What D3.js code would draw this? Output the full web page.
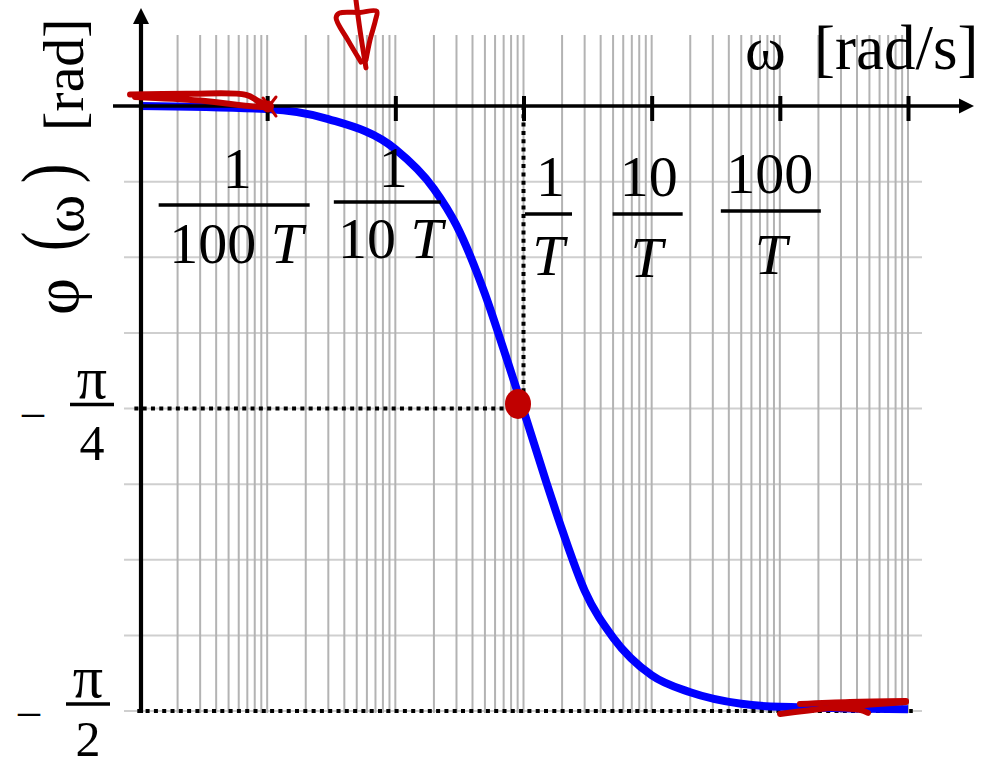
<!DOCTYPE html>
<html>
<head>
<meta charset="utf-8">
<script src="https://cdn.jsdelivr.net/npm/d3@7"></script>
<style>
  html, body { margin: 0; padding: 0; background: #fff; }
  svg { display: block; }
  text { font-family: "Liberation Serif", "Times New Roman", serif; fill: #000; }
</style>
</head>
<body>
<svg id="chart" width="995" height="761"></svg>
<script>
// Phase response of a first-order lag, ω given in units of 1/T
const omegaT = [0.001, 0.01, 0.03, 0.1, 0.2, 0.3, 0.5, 0.7, 1, 1.5, 2, 3, 5, 10, 20, 50, 100, 1000];
const phase  = [0, -0.008, -0.034, -0.112, -0.215, -0.310, -0.488, -0.632, -0.790, -0.975, -1.100, -1.258, -1.380, -1.478, -1.522, -1.552, -1.560, -1.566];

// Axis ticks and their fraction labels (numerator, denominator and bar centres, bar width)
const xTickValues = [0.01, 0.1, 1, 10, 100, 1000];
const xLabels = [
  { at: 0.01, num: "1",   den: "100", numDx: -30, barDx: -33, denDx: -31, barW: 151, numY: 188, barY: 205, denY: 263 },
  { at: 0.1,  num: "1",   den: "10",  numDx: -2,  barDx: -8,  denDx: -5,  barW: 107, numY: 187, barY: 202, denY: 258 },
  { at: 1,    num: "1",   den: "",    numDx: 27,  barDx: 25,  denDx: 25,  barW: 47,  numY: 196, barY: 214, denY: 275 },
  { at: 10,   num: "10",  den: "",    numDx: -3,  barDx: -4,  denDx: -5,  barW: 70,  numY: 196, barY: 214, denY: 277 },
  { at: 100,  num: "100", den: "",    numDx: -10, barDx: -9,  denDx: -9,  barW: 100, numY: 193, barY: 211, denY: 274 }
];
const yLabels = [
  { value: -Math.PI / 4, num: "π", den: "4" },
  { value: -Math.PI / 2, num: "π", den: "2" }
];
const gridDecades = [0.001, 0.01, 0.1, 1, 10, 100];
const gridMultipliers = [2, 3, 4, 5, 6, 7, 8, 9, 10];
const gridPhase = [1, 2, 3, 4, 5, 6, 7, 8].map(k => -k * Math.PI / 16);

// Hand-drawn red marks, in (ωT, phase) coordinates
const redArrowStem = [[0.0493, 0.275], [0.0530, 0.197], [0.0590, 0.099]];
const redArrowHead = [[0.0540, 0.114], [0.0427, 0.171], [0.0345, 0.229], [0.0365, 0.241],
                      [0.0530, 0.243], [0.0715, 0.246], [0.0700, 0.223], [0.0634, 0.171], [0.0590, 0.119]];
const redOriginScribble = [[0.000851, 0.0300], [0.0025, 0.0320], [0.00684, 0.0290], [0.00848, 0.0130],
                           [0.01015, 0.0], [0.00911, -0.0026], [0.00299, 0.0140], [0.000931, 0.0234]];
const redOriginTicks = [
  [[0.00928, 0.0208], [0.01172, -0.0260]],
  [[0.01172, 0.0234], [0.00979, -0.0104]]
];
const redOriginKnot = [0.01015, -0.001];
const redCrossing = [0.906, -0.7736];
const redTail = [
  [[143.6, -1.5524], [352.7, -1.5472], [964.5, -1.5446]],
  [[100.3, -1.5784], [246.2, -1.5628], [964.5, -1.5472]],
  [[246.2, -1.5628], [422, -1.5680], [487.2, -1.5758]]
];

const svg = d3.select("#chart");
const x = d3.scaleLog().domain([0.001, 1000]).range([139, 908]);
const y = d3.scaleLinear().domain([0, -Math.PI / 2]).range([106, 711]);

const red = "#c00000";

// Grid
const grid = svg.append("g");
grid.selectAll("line.h").data(gridPhase).join("line")
  .attr("x1", 124).attr("x2", 922)
  .attr("y1", d => y(d)).attr("y2", d => y(d))
  .attr("stroke", "#cfcfcf").attr("stroke-width", 2);
const vGrid = gridDecades.flatMap(d => gridMultipliers.map(m => d * m));
grid.selectAll("line.v").data(vGrid).join("line")
  .attr("x1", d => x(d)).attr("x2", d => x(d))
  .attr("y1", 35).attr("y2", 713)
  .attr("stroke", "#b3b3b3").attr("stroke-width", 2);

// Dotted guides at the corner frequency and the asymptote
const guides = svg.append("g").attr("stroke", "#000").attr("stroke-width", 4)
  .attr("stroke-dasharray", "4,4.3").attr("fill", "none");
guides.append("line")
  .attr("x1", x(0.00092)).attr("x2", x(1)).attr("y1", y(-Math.PI / 4)).attr("y2", y(-Math.PI / 4));
guides.append("line")
  .attr("x1", x(1)).attr("x2", x(1)).attr("y1", y(0)).attr("y2", y(-Math.PI / 4));
guides.append("line")
  .attr("x1", x(0.00097)).attr("x2", x(1090)).attr("y1", y(-Math.PI / 2)).attr("y2", y(-Math.PI / 2));

// Phase curve
const pts = omegaT.map((w, i) => [w, phase[i]]);
svg.append("path").datum(pts)
  .attr("fill", "none").attr("stroke", "#0000ff").attr("stroke-width", 8)
  .attr("d", d3.line().x(d => x(d[0])).y(d => y(d[1])).curve(d3.curveMonotoneX));

// Axes
const axisG = svg.append("g").attr("transform", `translate(0,${y(0)})`)
  .call(d3.axisBottom(x).tickValues(xTickValues).tickSize(15).tickFormat(""));
axisG.select(".domain").remove();
axisG.selectAll(".tick line").attr("y1", -10).attr("stroke", "#000").attr("stroke-width", 4);

svg.append("line").attr("x1", 113).attr("x2", 962).attr("y1", y(0)).attr("y2", y(0))
  .attr("stroke", "#000").attr("stroke-width", 3.5);
svg.append("path").attr("d", `M974,${y(0)} L959,${y(0) - 7.5} L959,${y(0) + 7.5} Z`).attr("fill", "#000");

svg.append("line").attr("x1", x(0.001) + 2).attr("x2", x(0.001) + 2).attr("y1", 713).attr("y2", 20)
  .attr("stroke", "#000").attr("stroke-width", 4.2);
svg.append("path").attr("d", `M141,8 L133,24 L149,24 Z`).attr("fill", "#000");

// Fraction labels on the frequency axis
const fs = 58;
const xl = svg.append("g");
xLabels.forEach(L => {
  const base = x(L.at);
  const g = xl.append("g");
  g.append("text").attr("x", base + L.numDx).attr("y", L.numY).attr("text-anchor", "middle")
    .attr("font-size", fs).text(L.num);
  const t = g.append("text").attr("x", base + L.denDx).attr("y", L.denY).attr("text-anchor", "middle")
    .attr("font-size", fs);
  if (L.den) t.append("tspan").text(L.den + " ");
  t.append("tspan").attr("font-style", "italic").text("T");
  g.append("line").attr("x1", base + L.barDx - L.barW / 2).attr("x2", base + L.barDx + L.barW / 2)
    .attr("y1", L.barY).attr("y2", L.barY)
    .attr("stroke", "#000").attr("stroke-width", 3.6);
});

// Fraction labels on the phase axis
const yl = svg.append("g");
yLabels.forEach((L, i) => {
  const cy = y(L.value) - (i === 0 ? 4 : 7);
  const cx = i === 0 ? 92 : 88;
  yl.append("text").attr("x", cx - 59).attr("y", cy + 21).attr("text-anchor", "middle")
    .attr("font-size", 44).text("–");
  yl.append("text").attr("x", cx).attr("y", cy - 7).attr("text-anchor", "middle")
    .attr("font-size", 60).text(L.num);
  yl.append("line").attr("x1", cx - 22).attr("x2", cx + 22).attr("y1", cy).attr("y2", cy)
    .attr("stroke", "#000").attr("stroke-width", 3.6);
  yl.append("text").attr("x", cx).attr("y", cy + (i === 0 ? 55 : 52)).attr("text-anchor", "middle")
    .attr("font-size", 50).text(L.den);
});

// Axis titles
svg.append("text").attr("x", 745).attr("y", 69).attr("font-size", 62).text("ω");
svg.append("text").attr("x", 814).attr("y", 69).attr("font-size", 63).text("[rad/s]");

// Rotated phase-axis title; positions run along the rotated baseline
const yt = svg.append("g").attr("transform", "translate(83,0) rotate(-90)");
const yParts = [
  { s: "φ",     at: -315, shift: -5, size: 64, stretch: 1 },
  { s: "(",     at: -251, shift: -9, size: 58, stretch: 1.3 },
  { s: "ω",     at: -233, shift: 0,  size: 58, stretch: 1 },
  { s: ")",     at: -183, shift: -9, size: 58, stretch: 1.3 },
  { s: "[rad]", at: -131, shift: 0,  size: 58, stretch: 1 }
];
yParts.forEach(p => yt.append("text")
  .attr("transform", `translate(${p.at},${p.shift}) scale(1,${p.stretch})`)
  .attr("font-size", p.size).text(p.s));

// Red hand-drawn marks
const pen = d3.line().x(d => x(d[0])).y(d => y(d[1])).curve(d3.curveCatmullRom);
const marks = svg.append("g").attr("fill", "none").attr("stroke", red)
  .attr("stroke-width", 5).attr("stroke-linecap", "round").attr("stroke-linejoin", "round");
marks.append("path").attr("d", pen(redArrowStem));
marks.append("path").attr("d", pen(redArrowHead));
marks.append("path").attr("d", pen(redOriginScribble)).attr("stroke-width", 6);
redOriginTicks.forEach(s => marks.append("path").attr("d", pen(s)).attr("stroke-width", 3));
redTail.forEach(s => marks.append("path").attr("d", pen(s)).attr("stroke-width", 6));
svg.append("circle").attr("cx", x(redOriginKnot[0])).attr("cy", y(redOriginKnot[1])).attr("r", 6).attr("fill", red);
svg.append("ellipse").attr("cx", x(redCrossing[0])).attr("cy", y(redCrossing[1])).attr("rx", 13).attr("ry", 15).attr("fill", red);
</script>
</body>
</html>
